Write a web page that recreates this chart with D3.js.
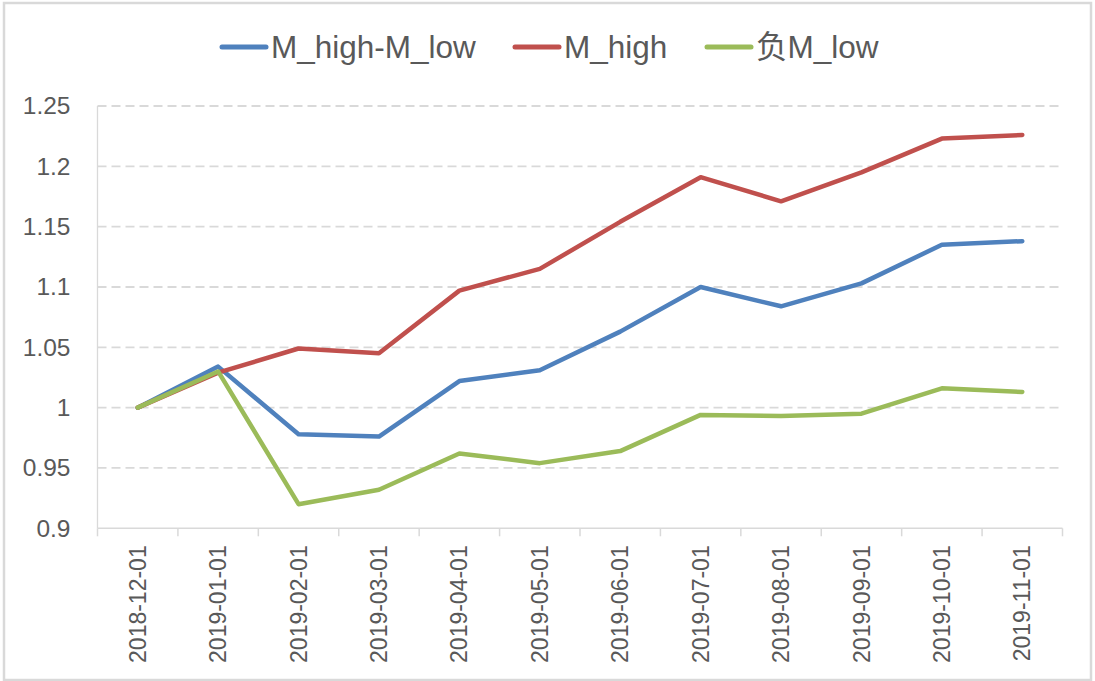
<!DOCTYPE html>
<html>
<head>
<meta charset="utf-8">
<script src="https://cdn.jsdelivr.net/npm/d3@7"></script>
<style>
  html, body { margin: 0; padding: 0; background: #fff; }
  svg { display: block; }
</style>
</head>
<body>
<svg id="chart" width="1095" height="681"></svg>
<script>
const categories = ["2018-12-01","2019-01-01","2019-02-01","2019-03-01","2019-04-01","2019-05-01",
                    "2019-06-01","2019-07-01","2019-08-01","2019-09-01","2019-10-01","2019-11-01"];
const seriesNames = ["M_high-M_low", "M_high", "负M_low"];
const spreadValues = [1.000, 1.034, 0.978, 0.976, 1.022, 1.031, 1.063, 1.100, 1.084, 1.103, 1.135, 1.138];
const highValues   = [1.000, 1.029, 1.049, 1.045, 1.097, 1.115, 1.154, 1.191, 1.171, 1.195, 1.223, 1.226];
const lowValues    = [1.000, 1.030, 0.920, 0.932, 0.962, 0.954, 0.964, 0.994, 0.993, 0.995, 1.016, 1.013];
const yTicks = [0.9, 0.95, 1, 1.05, 1.1, 1.15, 1.2, 1.25];
const colors = ["#4F81BD", "#C0504D", "#9BBB59"];

const series = [
  {name: seriesNames[0], values: spreadValues, color: colors[0]},
  {name: seriesNames[1], values: highValues, color: colors[1]},
  {name: seriesNames[2], values: lowValues, color: colors[2]}
];

const svg = d3.select("#chart");
const W = 1095, H = 681;
const m = {left: 97.5, right: 1062.5, top: 106, bottom: 528.3};
const font = "'Liberation Sans', Arial, sans-serif";

// outer frame
svg.append("rect").attr("x", 4).attr("y", 3).attr("width", W - 8).attr("height", H - 4)
  .attr("fill", "#fff").attr("stroke", "#d9d9d9").attr("stroke-width", 2.5);

const x = d3.scaleBand().domain(categories).range([m.left, m.right]).padding(0);
const y = d3.scaleLinear().domain([0.9, 1.25]).range([m.bottom, m.top]);

// gridlines
svg.append("g").selectAll("line").data(yTicks.filter(d => d > 0.9)).join("line")
  .attr("x1", m.left).attr("x2", m.right)
  .attr("y1", d => y(d)).attr("y2", d => y(d))
  .attr("stroke", "#d9d9d9").attr("stroke-width", 1.8).attr("stroke-dasharray", "9,5");

// y axis line
svg.append("line").attr("x1", m.left).attr("x2", m.left).attr("y1", y(1.25)).attr("y2", y(0.9))
  .attr("stroke", "#d9d9d9").attr("stroke-width", 1.3);

// y labels
const yAxis = svg.append("g").attr("transform", `translate(${m.left},0)`)
  .call(d3.axisLeft(y).tickValues(yTicks).tickSize(0).tickPadding(27).tickFormat(d => d3.format("~g")(d)));
yAxis.select(".domain").remove();
yAxis.selectAll("text").attr("font-family", font).attr("font-size", 24.5).attr("fill", "#595959");

// x axis
const xAxis = svg.append("g").attr("transform", `translate(0,${m.bottom})`)
  .call(d3.axisBottom(x).tickSize(0).tickPadding(0));
xAxis.select(".domain").attr("stroke", "#d9d9d9").attr("stroke-width", 1.5)
  .attr("d", `M${m.left},0H${m.right}`);
xAxis.selectAll(".tick text")
  .attr("font-family", font).attr("font-size", 23).attr("fill", "#595959")
  .attr("transform", "rotate(-90)").attr("text-anchor", "end")
  .attr("x", -17).attr("y", 0).attr("dy", "0.35em");
// boundary ticks
const bounds = categories.map(c => x(c)).concat([x(categories[categories.length - 1]) + x.bandwidth()]);
svg.append("g").selectAll("line").data(bounds).join("line")
  .attr("x1", d => d).attr("x2", d => d).attr("y1", m.bottom).attr("y2", m.bottom + 8)
  .attr("stroke", "#d9d9d9").attr("stroke-width", 1.5);

// lines
const line = d3.line().x((d, i) => x(categories[i]) + x.bandwidth() / 2).y(d => y(d));
svg.append("g").selectAll("path").data(series).join("path")
  .attr("d", d => line(d.values))
  .attr("fill", "none").attr("stroke", d => d.color).attr("stroke-width", 4.5)
  .attr("stroke-linejoin", "round").attr("stroke-linecap", "round");

// legend
const legendItems = [{x: 220}, {x: 513}, {x: 705}];
const lg = svg.append("g");
series.forEach((s, i) => {
  const lx = legendItems[i].x;
  lg.append("line").attr("x1", lx + 2).attr("x2", lx + 46).attr("y1", 47).attr("y2", 47)
    .attr("stroke", s.color).attr("stroke-width", 5).attr("stroke-linecap", "round");
  lg.append("text").attr("x", lx + 51).attr("y", 58)
    .attr("font-family", font + ", 'Noto Sans CJK SC'").attr("font-size", 31.5).attr("fill", "#595959")
    .text(s.name);
});
</script>
</body>
</html>
